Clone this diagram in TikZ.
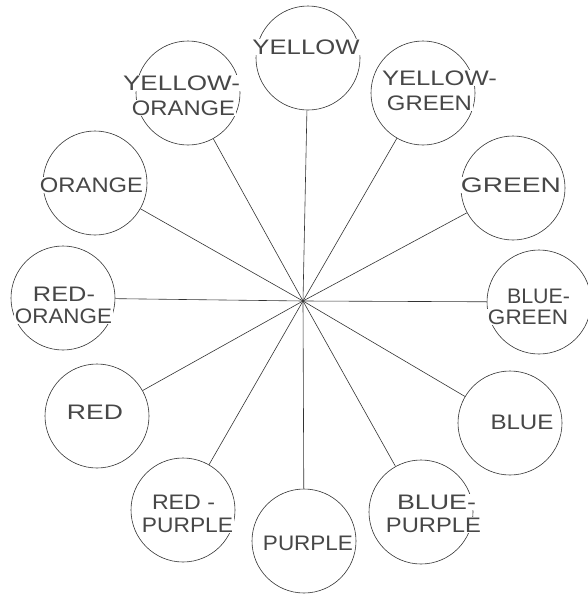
\documentclass[tikz,border=0pt]{standalone}
\usepackage{fontspec}
\setmainfont{Liberation Sans}
\newcommand\lblw[2]{\resizebox{#1pt}{\height}{#2}}
\begin{document}
\begin{tikzpicture}[x=1pt,y=-1pt,
  wheel/.style={circle,draw=black!80,line width=0.6pt,minimum size=104pt,inner sep=0pt},
  spoke/.style={draw=black!80,line width=0.6pt},
  lbl/.style={fill=white,inner sep=1pt,font=\fontsize{21}{21}\selectfont,text=black!72}]
\useasboundingbox (0,0) rectangle (588,595);
\coordinate (c) at (303,301);
% circles
\node[wheel] (Y)  at (308,58)  {};
\node[wheel] (YO) at (188,93)  {};
\node[wheel] (YG) at (423,93)  {};
\node[wheel] (G)  at (513,188) {};
\node[wheel] (BG) at (539,302) {};
\node[wheel] (B)  at (510,423) {};
\node[wheel] (BP) at (421,512) {};
\node[wheel] (P)  at (304,541) {};
\node[wheel] (RP) at (183,510) {};
\node[wheel] (R)  at (97,416)  {};
\node[wheel] (RO) at (63,298)  {};
\node[wheel] (O)  at (95,183)  {};
% spokes
\foreach \n in {Y,YO,YG,G,BG,B,BP,P,RP,R,RO,O}
  \draw[spoke] (c) -- (\n);
% labels
\node[lbl] (tY)   at (306,47)    {\lblw{107}{YELLOW}};
\node[lbl] (tYOa) at (181.5,83)  {\lblw{117}{YELLOW-}};
\node[lbl] (tYOb) at (183.5,108) {\lblw{103}{ORANGE}};
\node[lbl] (tYGa) at (439.5,78)  {\lblw{115}{YELLOW-}};
\node[lbl] (tYGb) at (429.5,103) {\lblw{85}{GREEN}};
\node[lbl] (tG)   at (511,185)   {\lblw{100}{GREEN}};
\node[lbl] (tBGa) at (538.5,296) {\lblw{63}{BLUE-}};
\node[lbl] (tBGb) at (528,317)   {\lblw{80}{GREEN}};
\node[lbl] (tB)   at (522,422)   {\lblw{63}{BLUE}};
\node[lbl] (tBPa) at (436.5,502) {\lblw{79}{BLUE-}};
\node[lbl] (tBPb) at (433.5,525) {\lblw{95}{PURPLE}};
\node[lbl] (tP)   at (308,543)   {\lblw{90}{PURPLE}};
\node[lbl] (tRPa) at (183.5,502) {\lblw{63}{RED -}};
\node[lbl] (tRPb) at (187.5,525) {\lblw{91}{PURPLE}};
\node[lbl] (tR)   at (95,412)    {\lblw{56}{RED}};
\node[lbl] (tROa) at (64,294)    {\lblw{62}{RED-}};
\node[lbl] (tROb) at (63.5,316)  {\lblw{97}{ORANGE}};
\node[lbl] (tO)   at (91.5,185)  {\lblw{103}{ORANGE}};
\end{tikzpicture}
\end{document}
